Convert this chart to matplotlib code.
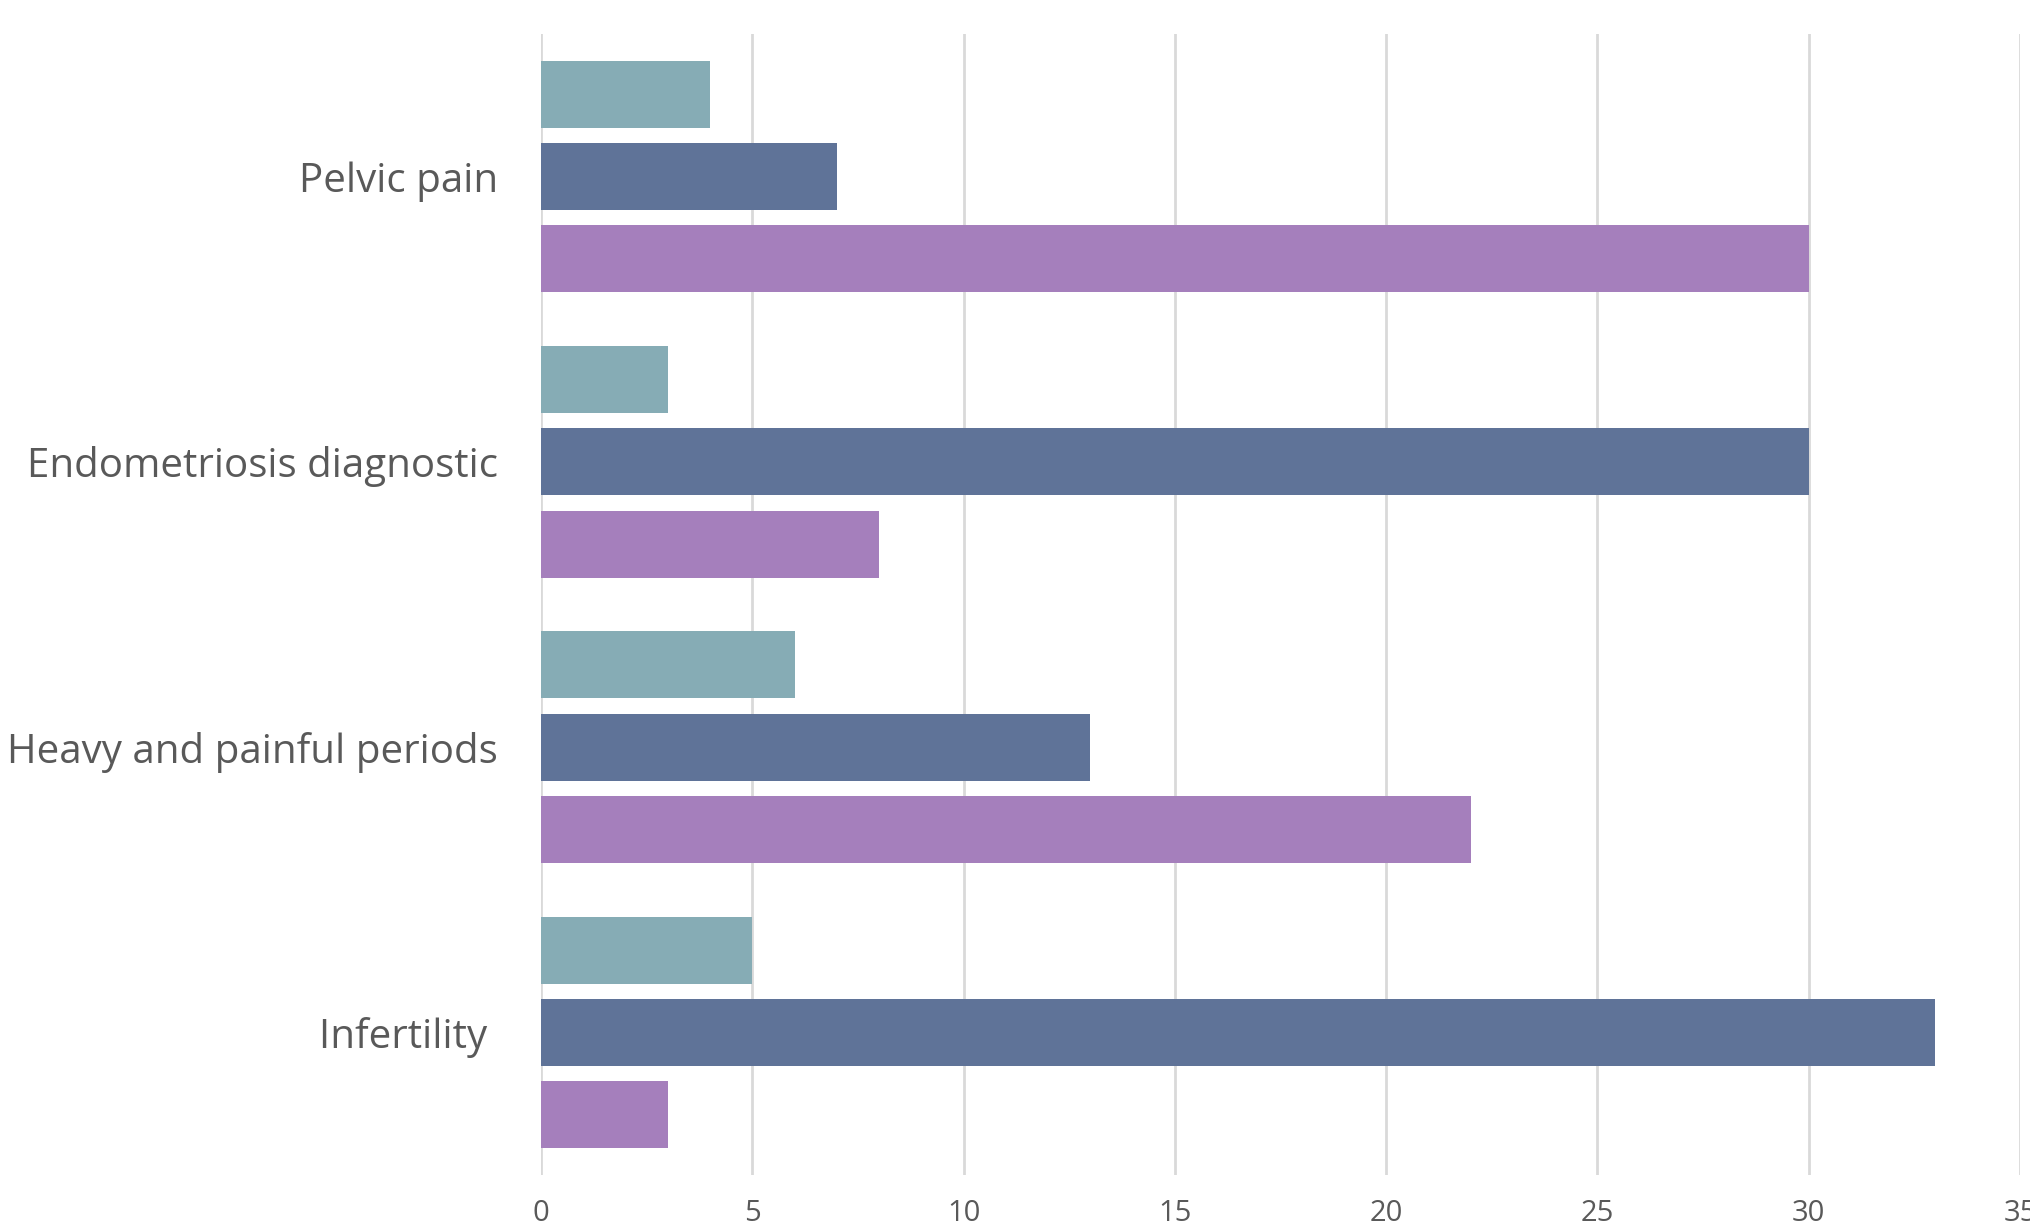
import numpy as np
import matplotlib
matplotlib.use('Agg')
import matplotlib.pyplot as plt

# категории сверху вниз
categories = ['Pelvic pain', 'Endometriosis diagnostic', 'Heavy and painful periods', 'Infertility ']
teal = [4, 3, 6, 5]
navy = [7, 30, 13, 33]
purple = [30, 8, 22, 3]

COLORS = ['#86ACB5', '#5F7398', '#A57FBC']
XTICKS = [0, 5, 10, 15, 20, 25, 30, 35]


def main():
    plt.rcParams['font.family'] = ['Open Sans', 'DejaVu Sans']
    fig = plt.figure(figsize=(20.30, 12.29), dpi=100)
    ax = fig.add_axes([541/2030, 1 - 1175/1229, (2020 - 541)/2030, (1175 - 34)/1229])

    y = np.arange(len(categories))
    h = 0.235
    step = 0.288
    for k, (vals, c) in enumerate(zip([teal, navy, purple], COLORS)):
        ax.barh(y + (k - 1) * step, vals, height=h, color=c, zorder=3)

    ax.set_ylim(len(categories) - 0.5, -0.5)
    ax.set_xlim(0, 35)
    ax.set_yticks(y)
    ax.set_yticklabels(categories, fontsize=29, color='#595959')
    ax.set_xticks(XTICKS)
    ax.set_xticklabels([str(t) for t in XTICKS], fontsize=21, color='#595959')
    ax.tick_params(axis='y', length=0, pad=31)
    ax.tick_params(axis='x', length=0, pad=17)

    # вертикальная сетка
    ax.grid(axis='x', color='#D9D9D9', lw=2, zorder=0)
    for s in ax.spines.values():
        s.set_visible(False)

    fig.savefig('out.png', dpi=100)


if __name__ == "__main__":
    main()
